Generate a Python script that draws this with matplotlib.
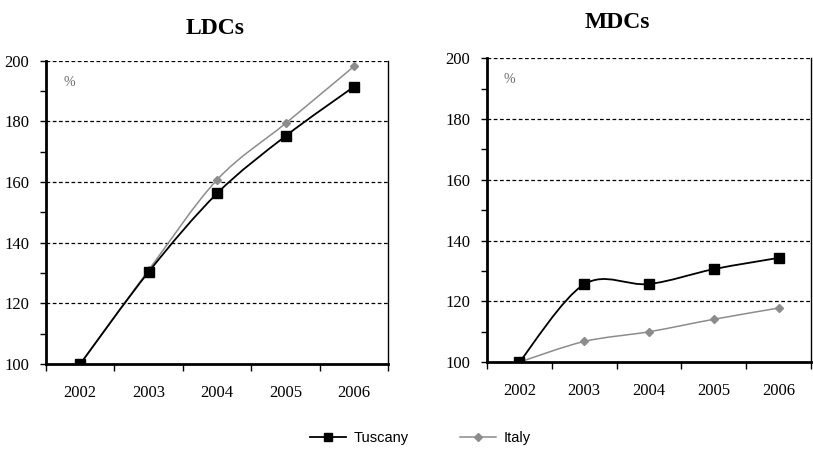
import matplotlib
matplotlib.use("Agg")
import matplotlib.pyplot as plt
from matplotlib.path import Path
from matplotlib.patches import PathPatch
from matplotlib.lines import Line2D
from matplotlib.ticker import MultipleLocator, FixedLocator, NullFormatter

years = ["2002", "2003", "2004", "2005", "2006"]
ldc_tuscany = [100, 130.4, 156.3, 175.2, 191.5]
ldc_italy = [100, 131.0, 160.8, 179.4, 198.2]
mdc_tuscany = [100, 125.6, 125.7, 130.6, 134.3]
mdc_italy = [100, 106.8, 110.0, 114.1, 117.8]

TUS_COLOR = "#000000"
ITA_COLOR = "#8c8c8c"
SERIF = "Liberation Serif"


def smooth_path(xs, ys):
    pts = list(zip(xs, ys))
    n = len(pts)
    verts = [pts[0]]
    codes = [Path.MOVETO]
    for i in range(n - 1):
        p0 = pts[i - 1] if i > 0 else pts[i]
        p1 = pts[i]
        p2 = pts[i + 1]
        p3 = pts[i + 2] if i + 2 < n else pts[i + 1]
        c1 = (p1[0] + (p2[0] - p0[0]) / 6, p1[1] + (p2[1] - p0[1]) / 6)
        c2 = (p2[0] - (p3[0] - p1[0]) / 6, p2[1] - (p3[1] - p1[1]) / 6)
        verts += [c1, c2, p2]
        codes += [Path.CURVE4] * 3
    return Path(verts, codes)


def draw_panel(ax, tus, ita, title, title_x, title_y):
    x = list(range(len(years)))
    for vals, col, mk, ms, lw in [(ita, ITA_COLOR, "D", 4.2, 1.1),
                                  (tus, TUS_COLOR, "s", 7, 1.3)]:
        ax.add_patch(PathPatch(smooth_path(x, vals), fill=False,
                               edgecolor=col, lw=lw, zorder=3))
        ax.plot(x, vals, linestyle="none", marker=mk, ms=ms, color=col,
                zorder=4)
    ax.set_xlim(-0.5, len(years) - 0.5)
    ax.set_ylim(100, 200)
    ax.yaxis.set_major_locator(MultipleLocator(20))
    ax.yaxis.set_minor_locator(MultipleLocator(10))
    ax.yaxis.set_minor_formatter(NullFormatter())
    for yv in range(120, 201, 20):
        ax.axhline(yv, color="black", lw=0.9, ls=(0, (3, 2)), zorder=1)
    ax.xaxis.set_major_locator(FixedLocator([i - 0.5 for i in range(len(years) + 1)]))
    ax.xaxis.set_major_formatter(NullFormatter())
    ax.xaxis.set_minor_locator(FixedLocator(x))
    ax.set_xticklabels(years, minor=True)
    ax.tick_params(axis="x", which="major", direction="out", length=5,
                   width=1, color="black")
    ax.tick_params(axis="x", which="minor", length=0, pad=15,
                   labelsize=12)
    ax.tick_params(axis="y", which="both", direction="out", length=4,
                   width=1, labelsize=12, pad=8)
    for lab in ax.get_xticklabels(minor=True) + ax.get_yticklabels():
        lab.set_fontfamily(SERIF)
    ax.spines["left"].set_linewidth(2)
    ax.spines["bottom"].set_linewidth(2)
    ax.spines["right"].set_linewidth(1)
    ax.spines["top"].set_visible(False)
    ax.text(0.05, 0.93, "%", transform=ax.transAxes, color="#666666",
            fontsize=10, family=SERIF, va="center", ha="left")
    ax.figure.text(title_x, title_y, title, ha="center", va="center",
                   fontsize=17, fontweight="bold", family=SERIF)


fig = plt.figure(figsize=(8.13, 4.51), dpi=100)
ax1 = fig.add_axes([0.0566, 0.193, 0.421, 0.672])
ax2 = fig.add_axes([0.599, 0.197, 0.3985, 0.674])
draw_panel(ax1, ldc_tuscany, ldc_italy, "LDCs", 215 / 813, 1 - 28 / 451)
draw_panel(ax2, mdc_tuscany, mdc_italy, "MDCs", 617 / 813, 1 - 22 / 451)

handles = [Line2D([], [], color=TUS_COLOR, marker="s", ms=6, lw=1.3),
           Line2D([], [], color=ITA_COLOR, marker="D", ms=4, lw=1.1)]
fig.legend(handles, ["Tuscany", "Italy"], loc="center",
           bbox_to_anchor=(0.517, 1 - 438 / 451), ncol=2, frameon=False,
           prop={"family": "Liberation Sans", "size": 10.5},
           handlelength=2.5, columnspacing=3.5, handletextpad=0.5)

fig.savefig("out.png", dpi=100)
